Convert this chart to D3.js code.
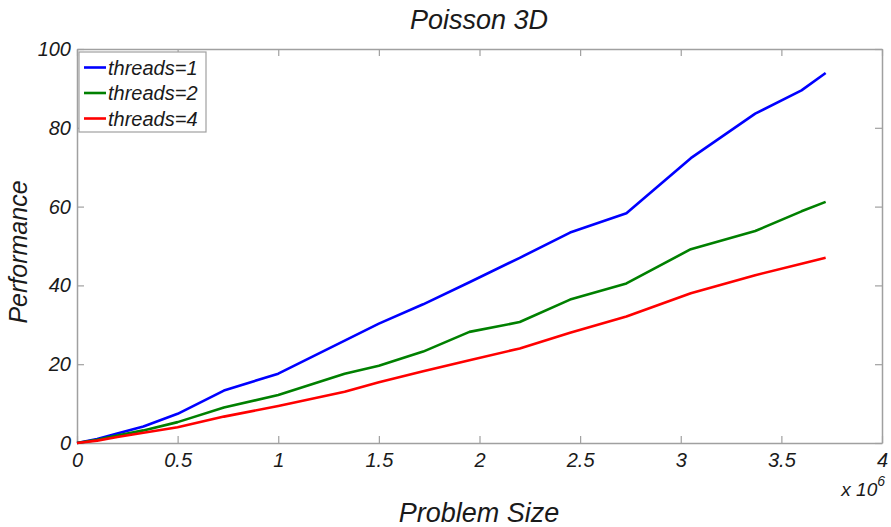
<!DOCTYPE html>
<html>
<head>
<meta charset="utf-8">
<script src="https://cdn.jsdelivr.net/npm/d3@7"></script>
<style>
  body { margin: 0; background: #fff; }
  text { font-family: "Liberation Sans", Arial, sans-serif; font-style: italic; fill: #1a1a1a; }
</style>
</head>
<body>
<div id="chart"></div>
<script>
// problem size in units of 10^6
const sizes = [0, 0.1, 0.2, 0.33, 0.5, 0.73, 1.0, 1.33, 1.5, 1.72, 1.95, 2.2, 2.45, 2.73, 3.05, 3.37, 3.6, 3.72]
const threads1 = [0, 1.0, 2.4, 4.2, 7.4, 13.3, 17.6, 26.0, 30.3, 35.2, 40.8, 47.0, 53.4, 58.3, 72.3, 83.6, 89.5, 93.9]
const threads2 = [0, 0.8, 1.9, 3.2, 5.3, 9.0, 12.2, 17.6, 19.6, 23.2, 28.2, 30.7, 36.4, 40.5, 49.2, 53.8, 58.8, 61.2]
const threads4 = [0, 0.6, 1.5, 2.6, 4.0, 6.7, 9.4, 13.0, 15.4, 18.2, 21.0, 24.0, 28.0, 32.1, 38.0, 42.6, 45.5, 47.0]
const seriesNames = ['threads=1', 'threads=2', 'threads=4']
const seriesColors = ['#0000ff', '#008000', '#ff0000']
const xTicks = [0, 0.5, 1, 1.5, 2, 2.5, 3, 3.5, 4]
const yTicks = [0, 20, 40, 60, 80, 100]

const W = 891, H = 527
const margin = { top: 49, right: 9, bottom: 84, left: 77 }
const width = W - margin.left - margin.right
const height = H - margin.top - margin.bottom

const svg = d3.select('#chart')
  .append('svg')
    .attr('width', W)
    .attr('height', H)

const g = svg.append('g')
  .attr('transform', `translate(${margin.left}, ${margin.top})`)

const xScale = d3.scaleLinear().domain([0, 4]).range([0, width])
const yScale = d3.scaleLinear().domain([0, 100]).range([height, 0])

const axisColor = '#a0a0a0'
const tickLen = 7

// bottom / left axes with labels, inward ticks
const xAxis = g.append('g')
  .attr('transform', `translate(0, ${height})`)
  .call(d3.axisBottom(xScale).tickValues(xTicks).tickSizeInner(-tickLen).tickSizeOuter(0).tickPadding(10).tickFormat(d3.format('')))
const yAxis = g.append('g')
  .call(d3.axisLeft(yScale).tickValues(yTicks).tickSizeInner(-tickLen).tickSizeOuter(0).tickPadding(6))

// top / right axes, ticks only
const xTop = g.append('g')
  .call(d3.axisTop(xScale).tickValues(xTicks).tickSizeInner(-tickLen).tickSizeOuter(0).tickFormat(''))
const yRight = g.append('g')
  .attr('transform', `translate(${width}, 0)`)
  .call(d3.axisRight(yScale).tickValues(yTicks).tickSizeInner(-tickLen).tickSizeOuter(0).tickFormat(''))

;[xAxis, yAxis, xTop, yRight].forEach(a => {
  a.select('.domain').attr('stroke', axisColor).attr('stroke-width', 1.5)
  a.selectAll('.tick line').attr('stroke', axisColor).attr('stroke-width', 1.2)
  a.selectAll('.tick text')
    .style('font-size', '20px')
    .style('font-family', '"Liberation Sans", Arial, sans-serif')
    .style('font-style', 'italic')
    .attr('fill', '#1a1a1a')
})

// lines
const seriesData = [threads1, threads2, threads4]
const line = d3.line()
  .x((d, i) => xScale(sizes[i]))
  .y(d => yScale(d))

g.selectAll('path.series')
  .data(seriesData)
  .enter()
  .append('path')
    .attr('class', 'series')
    .attr('fill', 'none')
    .attr('stroke', (d, i) => seriesColors[i])
    .attr('stroke-width', 2.6)
    .attr('stroke-linejoin', 'round')
    .attr('d', line)

// legend
const legend = g.append('g').attr('transform', 'translate(2, 3)')
legend.append('rect')
  .attr('width', 127)
  .attr('height', 80)
  .attr('fill', '#fff')
  .attr('stroke', axisColor)
  .attr('stroke-width', 1.2)

const items = legend.selectAll('g.item')
  .data(seriesNames)
  .enter()
  .append('g')
    .attr('class', 'item')
    .attr('transform', (d, i) => `translate(0, ${15.5 + i * 25.5})`)

items.append('line')
  .attr('x1', 5).attr('x2', 27)
  .attr('stroke', (d, i) => seriesColors[i])
  .attr('stroke-width', 2.6)

items.append('text')
  .attr('x', 29)
  .attr('dy', '0.35em')
  .style('font-size', '20px')
  .text(d => d)

// title and axis labels
svg.append('text')
  .attr('x', 479)
  .attr('y', 29)
  .attr('text-anchor', 'middle')
  .style('font-size', '27px')
  .text('Poisson 3D')

svg.append('text')
  .attr('x', 479)
  .attr('y', 522)
  .attr('text-anchor', 'middle')
  .style('font-size', '27px')
  .text('Problem Size')

svg.append('text')
  .attr('transform', 'translate(27, 252) rotate(-90)')
  .attr('text-anchor', 'middle')
  .style('font-size', '25px')
  .text('Performance')

const exp = svg.append('text')
  .attr('x', 885)
  .attr('y', 496)
  .attr('text-anchor', 'end')
  .style('font-size', '19px')
exp.append('tspan').text('x 10')
exp.append('tspan').attr('dy', -10).style('font-size', '14px').text('6')
</script>
</body>
</html>
